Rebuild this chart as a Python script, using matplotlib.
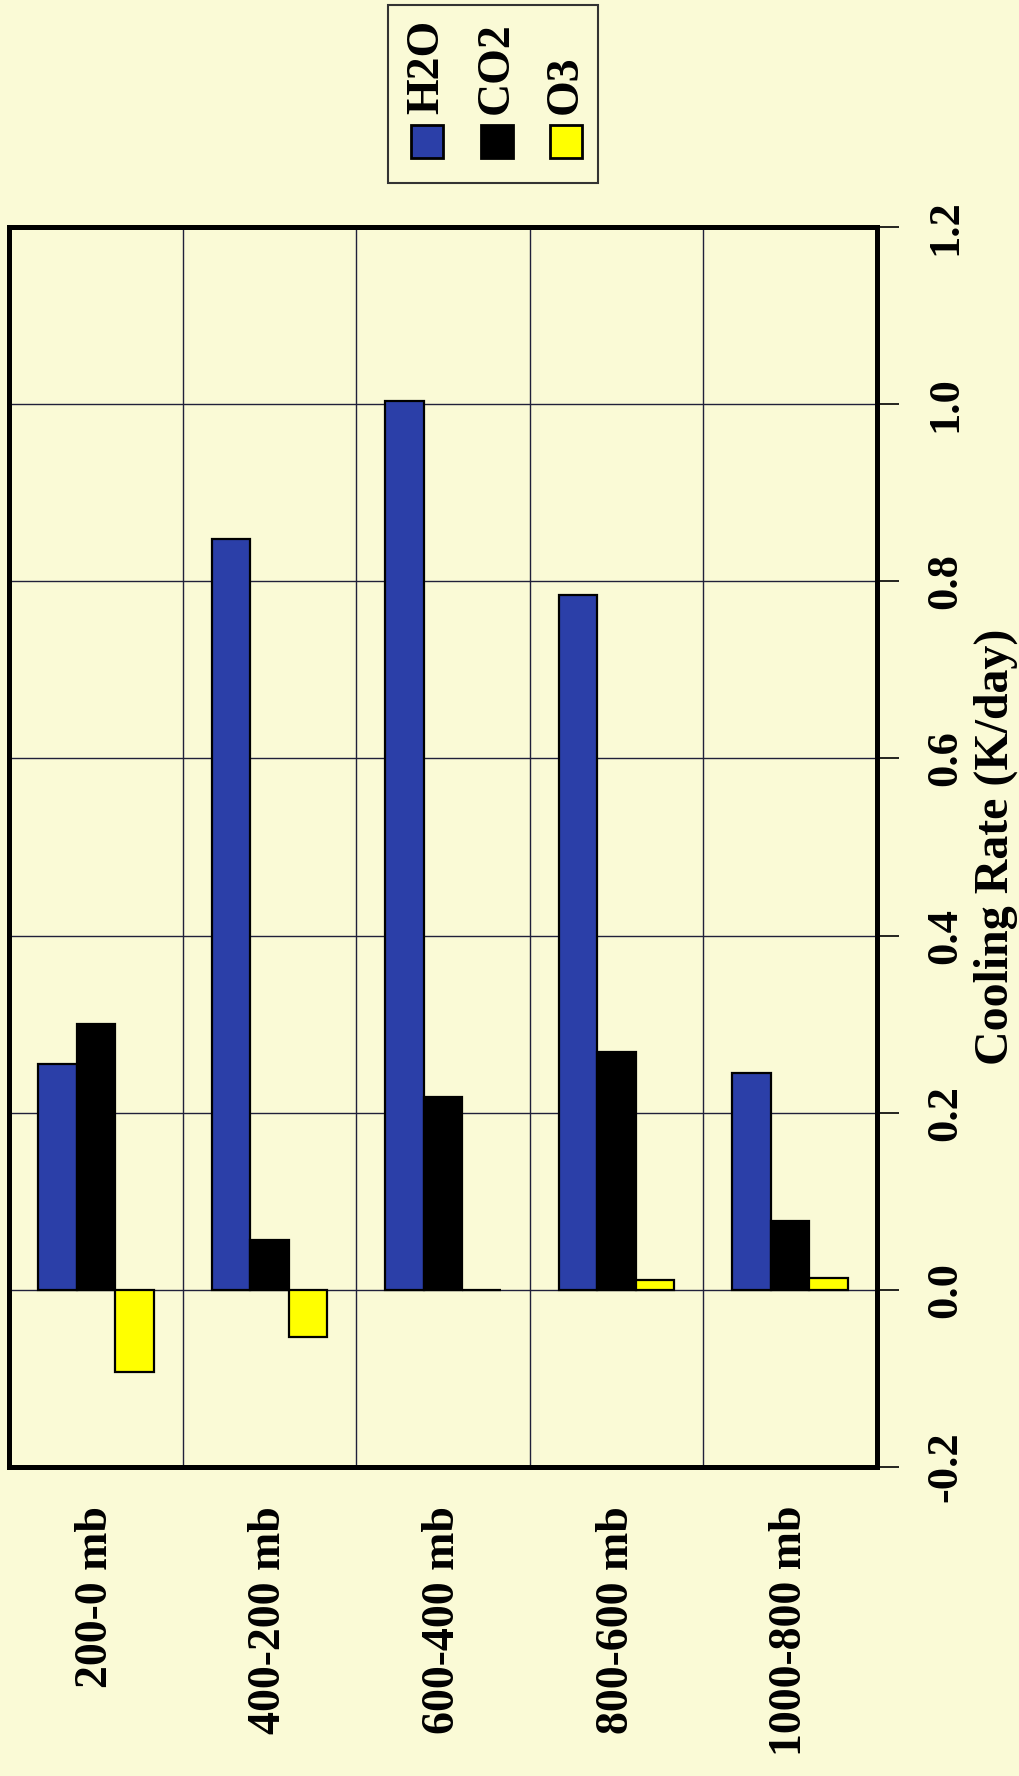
import matplotlib.pyplot as plt
from matplotlib.patches import Rectangle
import numpy as np

# cooling rate by layer and gas (chart is printed sideways)
layers = ['200-0 mb', '400-200 mb', '600-400 mb', '800-600 mb', '1000-800 mb']
h2o = [0.255, 0.848, 1.004, 0.784, 0.245]
co2 = [0.300, 0.056, 0.218, 0.269, 0.078]
o3 = [-0.093, -0.053, 0.0, 0.011, 0.013]
gases = ['H2O', 'CO2', 'O3']
ticks = [-0.2, 0.0, 0.2, 0.4, 0.6, 0.8, 1.0, 1.2]
tick_labels = ['-0.2', '0.0', '0.2', '0.4', '0.6', '0.8', '1.0', '1.2']

bg = '#fafad6'
colors = ['#2b3fa8', '#000000', '#ffff00']
font = 'Liberation Serif'

W, H = 1020, 1776
fig = plt.figure(figsize=(W / 100, H / 100), dpi=100, facecolor=bg)
ax = fig.add_axes([9 / W, 1 - 1467 / H, 868 / W, 1240 / H])
ax.set_facecolor(bg)

x = np.arange(len(layers))
w = 2 / 9
for i, vals in enumerate([h2o, co2, o3]):
    ax.bar(x + (i - 1) * w, vals, width=w, color=colors[i],
           edgecolor='black', linewidth=1.6, zorder=3)

ax.set_xlim(-0.5, len(layers) - 0.5)
ax.set_ylim(-0.2, 1.2)

# value axis on the right, labels turned
ax.yaxis.tick_right()
ax.set_yticks(ticks)
ax.set_yticklabels(tick_labels, rotation=90, va='center',
                   fontsize=32, fontweight='bold', family=font)
ax.tick_params(axis='y', direction='out', length=16, width=1.2, pad=19)
ax.yaxis.set_label_position('right')
ax.set_ylabel('Cooling Rate (K/day)', fontsize=34.5, fontweight='bold',
              family=font, rotation=90, va='center', ha='center')
ax.yaxis.set_label_coords(1.137, 0.5)

ax.set_xticks(x)
ax.set_xticklabels(layers, rotation=90, va='top', ha='center',
                   fontsize=33, fontweight='bold', family=font)
ax.tick_params(axis='x', length=0, pad=28)
ax.set_xticks(x[:-1] + 0.5, minor=True)
ax.tick_params(axis='x', which='minor', length=0)

ax.grid(axis='y', which='major', color='#20203a', linewidth=1.0, zorder=1)
ax.grid(axis='x', which='minor', color='#20203a', linewidth=1.0, zorder=1)
ax.set_axisbelow(True)
for s in ax.spines.values():
    s.set_linewidth(3.6)
    s.set_color('black')

# legend box drawn by hand, entries side by side with turned text
def fx(px):
    return px / W

def fy(py):
    return 1 - py / H

fig.patches.append(Rectangle((fx(388), fy(183)), fx(598) - fx(388), fy(5) - fy(183),
                             transform=fig.transFigure, facecolor='none',
                             edgecolor='#333333', linewidth=1.5))
for name, c, cx in zip(gases, colors, [427, 497, 566]):
    fig.patches.append(Rectangle((fx(cx - 16), fy(158)), fx(32), 33 / H,
                                 transform=fig.transFigure, facecolor=c,
                                 edgecolor='black', linewidth=2))
    fig.text(fx(cx), fy(114), name, rotation=90, ha='center', va='bottom',
             fontsize=33, fontweight='bold', family=font)

fig.savefig('out.png', dpi=100, facecolor=bg)
